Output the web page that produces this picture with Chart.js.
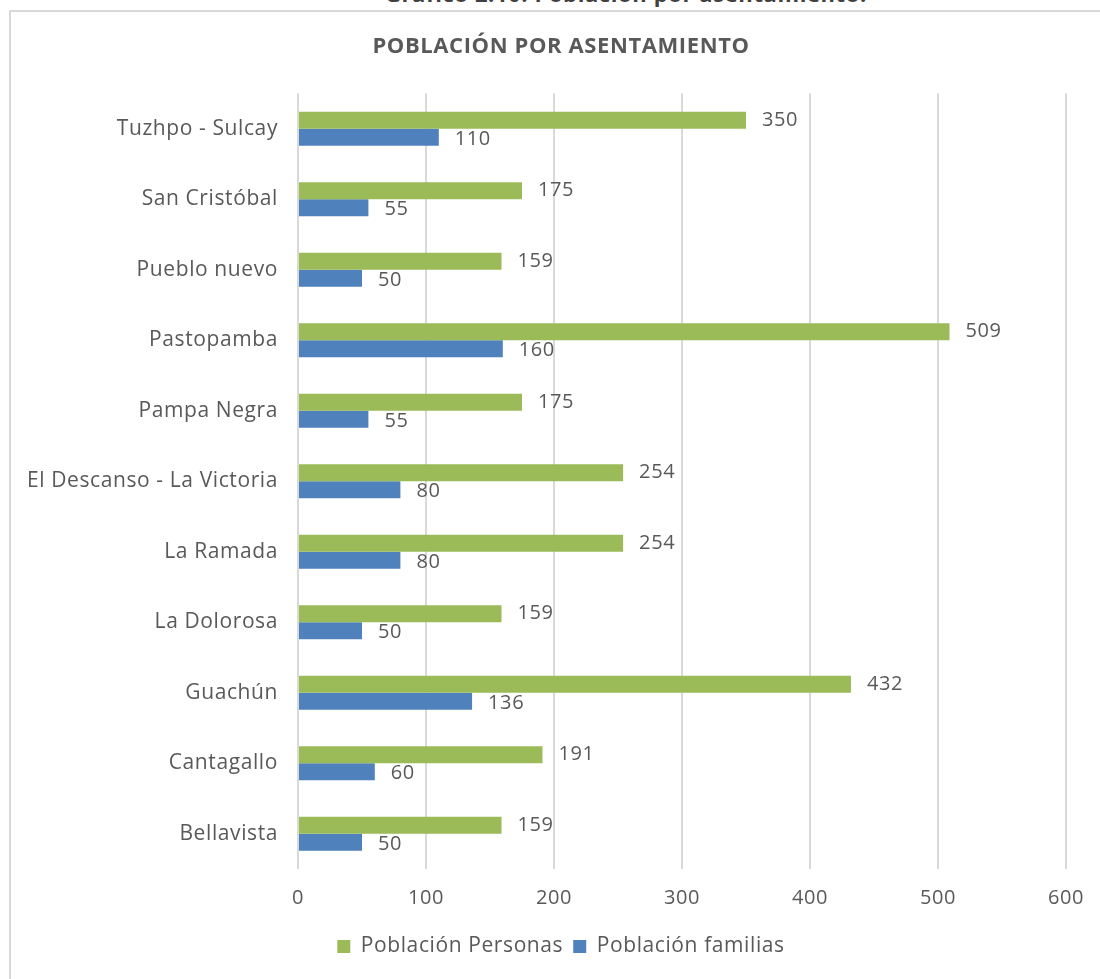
<!DOCTYPE html>
<html>
<head>
<meta charset="utf-8">
<script src="https://cdn.jsdelivr.net/npm/chart.js@4/dist/chart.umd.min.js"></script>
<style>
  html, body { margin: 0; padding: 0; background: #fff; overflow: hidden; width: 1100px; height: 979px; }
  #frame { position: absolute; left: 9px; top: 10px; width: 1200px; height: 1100px; border: 2px solid #d9d9d9; box-sizing: border-box; }
  #caption { position: absolute; left: 385px; top: -22px; font-family: "Open Sans", sans-serif; font-weight: bold; font-size: 22px; letter-spacing: 0.6px; color: #404040; white-space: nowrap; }
  #wrap { position: absolute; left: 11px; top: 0; width: 1100px; height: 979px; }
</style>
</head>
<body>
<div id="caption">Gráfico 2.10: Población por asentamiento.</div>
<div id="frame"></div>
<div id="wrap"><canvas id="c" width="1100" height="979"></canvas></div>
<script>
const categories = ["Tuzhpo - Sulcay", "San Cristóbal", "Pueblo nuevo", "Pastopamba", "Pampa Negra", "El Descanso - La Victoria", "La Ramada", "La Dolorosa", "Guachún", "Cantagallo", "Bellavista"];
const poblacionPersonas = [350, 175, 159, 509, 175, 254, 254, 159, 432, 191, 159];
const poblacionFamilias = [110, 55, 50, 160, 55, 80, 80, 50, 136, 60, 50];
const xTicks = [0, 100, 200, 300, 400, 500, 600];

const FONT = "'Open Sans', sans-serif";
const TXT = "#595959";
const SPACING = '0.6px';

const spacingPlugin = {
  id: 'spacing',
  beforeInit(chart) { chart.ctx.letterSpacing = SPACING; },
  beforeUpdate(chart) { chart.ctx.letterSpacing = SPACING; },
  beforeDraw(chart) { chart.ctx.letterSpacing = SPACING; }
};

// centre title and legend on the whole chart frame (as in the reference)
const centerBoxes = {
  id: 'centerBoxes',
  afterLayout(chart) {
    if (chart.titleBlock) chart.titleBlock.left = 45;
    if (chart.legend) chart.legend.left = 45;
  }
};

const valueLabels = {
  id: 'valueLabels',
  afterDatasetsDraw(chart) {
    const ctx = chart.ctx;
    ctx.save();
    ctx.letterSpacing = SPACING;
    ctx.font = "20px " + FONT;
    ctx.fillStyle = TXT;
    ctx.textBaseline = 'middle';
    ctx.textAlign = 'left';
    chart.data.datasets.forEach((ds, di) => {
      const meta = chart.getDatasetMeta(di);
      meta.data.forEach((bar, i) => {
        ctx.fillText(String(ds.data[i]), bar.x + 16, bar.y + (di === 0 ? 0 : 2));
      });
    });
    ctx.restore();
  }
};

new Chart(document.getElementById('c'), {
  type: 'bar',
  data: {
    labels: categories,
    datasets: [
      { label: 'Población Personas', data: poblacionPersonas, backgroundColor: '#9BBB59', borderWidth: 0 },
      { label: 'Población familias', data: poblacionFamilias, backgroundColor: '#4F81BD', borderWidth: 0 }
    ]
  },
  options: {
    indexAxis: 'y',
    responsive: false,
    animation: false,
    devicePixelRatio: 1,
    categoryPercentage: 0.482,
    barPercentage: 1,
    layout: { padding: { left: 0, right: 45, top: 0, bottom: 12 } },
    plugins: {
      title: {
        display: true,
        text: 'POBLACIÓN POR ASENTAMIENTO',
        color: TXT,
        font: { family: FONT, size: 22, weight: 'bold' },
        padding: { top: 34, bottom: 33 }
      },
      legend: {
        position: 'bottom',
        labels: {
          color: TXT,
          font: { family: FONT, size: 21 },
          boxWidth: 13,
          boxHeight: 13,
          padding: 10
        }
      },
      tooltip: { enabled: false }
    },
    scales: {
      x: {
        min: 0, max: 600,
        afterBuildTicks(scale) { scale.ticks = xTicks.map(v => ({ value: v })); },
        afterFit(scale) { scale.height = 57; },
        grid: { color: '#d9d9d9', lineWidth: 2, drawTicks: false },
        border: { display: false },
        ticks: { color: TXT, font: { family: FONT, size: 20 }, padding: 17 }
      },
      y: {
        afterFit(scale) { scale.width = 287; },
        grid: { display: false, drawTicks: false },
        border: { display: false },
        ticks: { color: TXT, font: { family: FONT, size: 21 }, padding: 20 }
      }
    }
  },
  plugins: [spacingPlugin, centerBoxes, valueLabels]
});
</script>
</body>
</html>
